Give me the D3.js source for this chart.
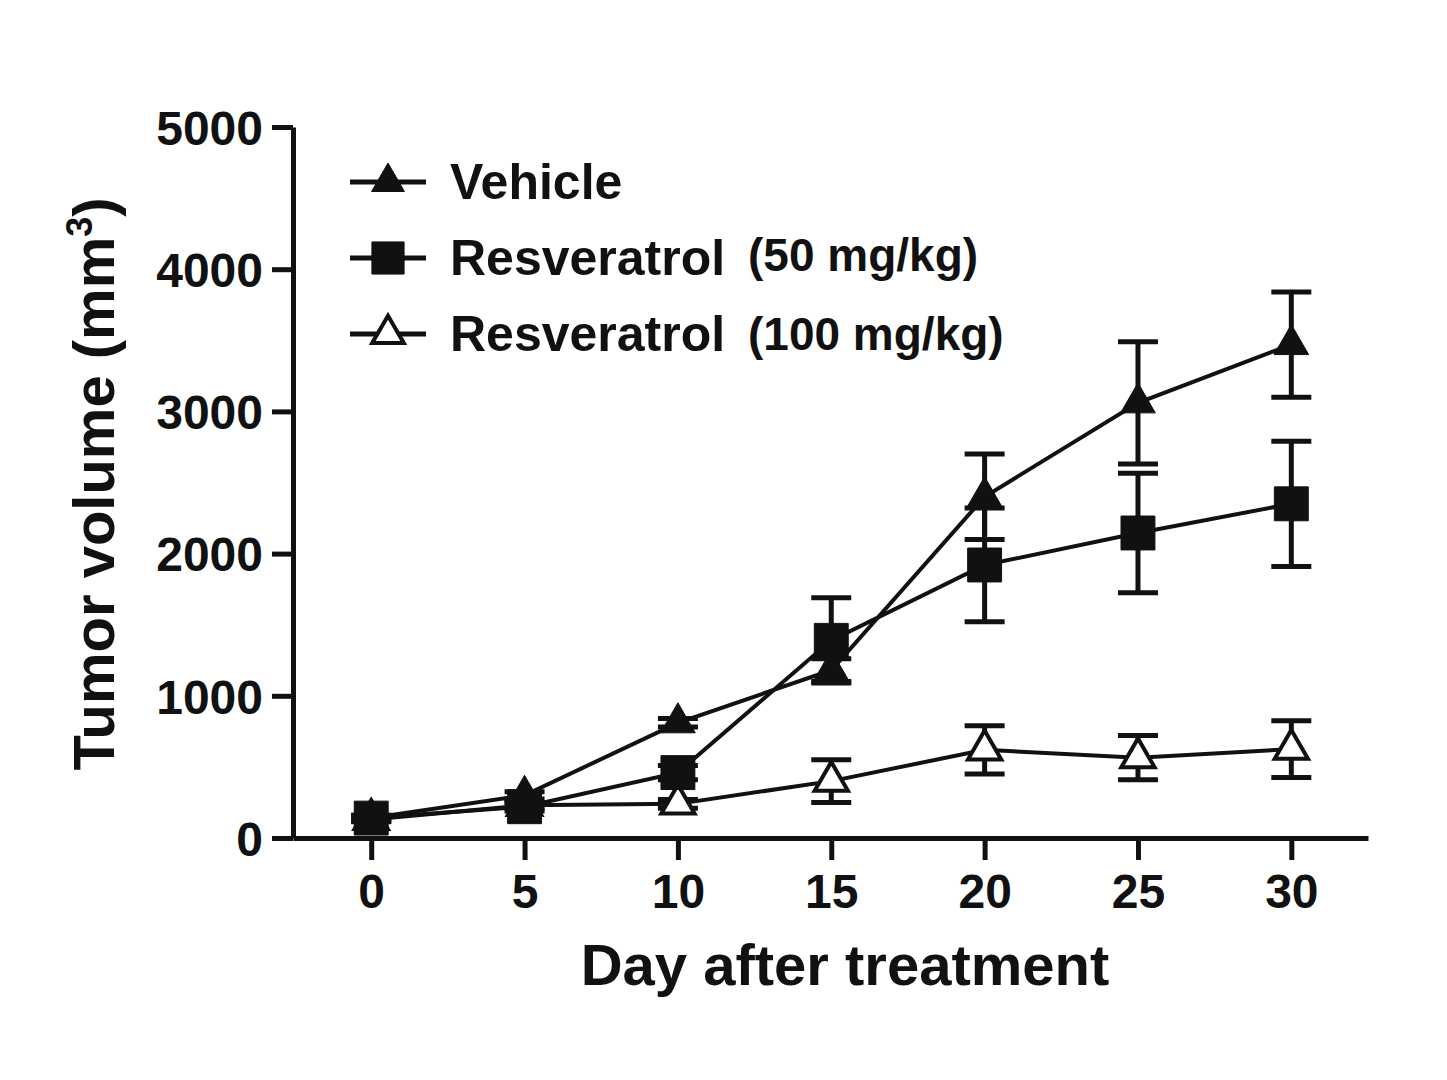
<!DOCTYPE html>
<html>
<head>
<meta charset="utf-8">
<script src="https://cdn.jsdelivr.net/npm/d3@7"></script>
<style>
  html, body { margin: 0; padding: 0; background: #fff; }
  svg text { font-family: "Liberation Sans", Arial, sans-serif; font-weight: bold; fill: #111; }
</style>
</head>
<body>
<div id="chart"></div>
<script>
// ---------------------------------------------------------------------------
// Data

const days = [0, 5, 10, 15, 20, 25, 30];
const xTicks = [0, 5, 10, 15, 20, 25, 30];
const yTicks = [0, 1000, 2000, 3000, 4000, 5000];

const vehicleMean = [140, 300, 810, 1180, 2400, 3060, 3470];
const vehicleErr = [20, 25, 30, 80, 300, 430, 370];

const res50Mean = [140, 220, 460, 1390, 1920, 2145, 2350];
const res50Err = [20, 30, 50, 300, 400, 420, 440];

const res100Mean = [130, 230, 240, 400, 620, 565, 625];
const res100Err = [15, 20, 30, 150, 170, 155, 200];

const seriesNames = ['Vehicle', 'Resveratrol', 'Resveratrol'];
const seriesDoses = ['', '(50 mg/kg)', '(100 mg/kg)'];

// ---------------------------------------------------------------------------
// Layout

const width = 1447;
const height = 1080;
const ink = '#111';

const svg = d3.select('#chart')
  .append('svg')
  .attr('width', width)
  .attr('height', height);

svg.append('rect').attr('width', width).attr('height', height).attr('fill', '#fff');

const x = d3.scaleLinear().domain([-2.55, 32.5]).range([293, 1368]);
const y = d3.scaleLinear().domain([0, 5000]).range([838, 127]);

// build series from the arrays
const series = [
  { name: seriesNames[0], dose: seriesDoses[0], mean: vehicleMean, err: vehicleErr, shape: d3.symbolTriangle, size: 520, fill: ink, z: 1 },
  { name: seriesNames[1], dose: seriesDoses[1], mean: res50Mean, err: res50Err, shape: d3.symbolSquare, size: 1150, fill: ink, z: 2 },
  { name: seriesNames[2], dose: seriesDoses[2], mean: res100Mean, err: res100Err, shape: d3.symbolTriangle, size: 480, fill: '#fff', z: 0 }
];
series.forEach(s => {
  s.points = days.map((d, i) => ({ day: d, mean: s.mean[i], err: s.err[i] }));
});
// drawing order: open triangles at the bottom, squares on top
const drawOrder = series.slice().sort((a, b) => a.z - b.z);

// ---------------------------------------------------------------------------
// Axes

const xAxis = svg.append('g')
  .attr('transform', `translate(0,${y(0)})`)
  .call(d3.axisBottom(x).tickValues(xTicks).tickSize(22).tickSizeOuter(0).tickPadding(14));

const yAxis = svg.append('g')
  .attr('transform', `translate(${x.range()[0]},0)`)
  .call(d3.axisLeft(y).tickValues(yTicks).tickFormat(d3.format('d'))
    .tickSize(21).tickSizeOuter(0).tickPadding(9));

[xAxis, yAxis].forEach(g => {
  g.select('.domain').attr('stroke', ink).attr('stroke-width', 5);
  g.selectAll('.tick line').attr('stroke', ink).attr('stroke-width', 5);
  g.selectAll('.tick text').attr('font-size', 48).attr('fill', ink);
});
yAxis.selectAll('.tick text').attr('dy', '0.36em');

// axis titles
svg.append('text')
  .attr('x', 845)
  .attr('y', 985)
  .attr('text-anchor', 'middle')
  .attr('font-size', 58)
  .text('Day after treatment');

const yTitle = svg.append('text')
  .attr('transform', 'translate(114,484) rotate(-90)')
  .attr('text-anchor', 'middle')
  .attr('font-size', 58);
yTitle.append('tspan').text('Tumor volume (mm');
yTitle.append('tspan').attr('font-size', 36).attr('dy', -22).text('3');
yTitle.append('tspan').attr('dy', 22).text(')');

// ---------------------------------------------------------------------------
// Series

const line = d3.line().x(d => x(d.day)).y(d => y(d.mean));

drawOrder.forEach(s => {
  svg.append('path')
    .datum(s.points)
    .attr('fill', 'none')
    .attr('stroke', ink)
    .attr('stroke-width', 4)
    .attr('d', line);
});

drawOrder.forEach(s => {
  const eb = svg.append('g').selectAll('g')
    .data(s.points)
    .join('g')
    .attr('stroke', ink)
    .attr('stroke-width', 5);
  eb.append('line')
    .attr('x1', d => x(d.day)).attr('x2', d => x(d.day))
    .attr('y1', d => y(d.mean - d.err)).attr('y2', d => y(d.mean + d.err));
  eb.append('line')
    .attr('x1', d => x(d.day) - 20).attr('x2', d => x(d.day) + 20)
    .attr('y1', d => y(d.mean + d.err)).attr('y2', d => y(d.mean + d.err));
  eb.append('line')
    .attr('x1', d => x(d.day) - 20).attr('x2', d => x(d.day) + 20)
    .attr('y1', d => y(d.mean - d.err)).attr('y2', d => y(d.mean - d.err));
});

drawOrder.forEach(s => {
  svg.append('g').selectAll('path')
    .data(s.points)
    .join('path')
    .attr('transform', d => `translate(${x(d.day)},${y(d.mean)})`)
    .attr('d', d3.symbol().type(s.shape).size(s.size))
    .attr('fill', s.fill)
    .attr('stroke', ink)
    .attr('stroke-width', s.fill === ink ? 1 : 4);
});

// ---------------------------------------------------------------------------
// Legend

const legendY = [182, 258, 334];
const legend = svg.append('g')
  .selectAll('g')
  .data(series)
  .join('g')
  .attr('transform', (d, i) => `translate(350,${legendY[i]})`);

legend.append('line')
  .attr('x1', 0).attr('x2', 76)
  .attr('stroke', ink).attr('stroke-width', 5);

legend.append('path')
  .attr('transform', 'translate(38,0)')
  .attr('d', d => d3.symbol().type(d.shape).size(d.size * 0.9)())
  .attr('fill', d => d.fill)
  .attr('stroke', ink)
  .attr('stroke-width', d => d.fill === ink ? 1 : 4);

legend.append('text')
  .attr('x', 100)
  .attr('y', 17)
  .attr('font-size', 50)
  .text(d => d.name);

legend.append('text')
  .attr('x', 398)
  .attr('y', (d, i) => i === 1 ? 13 : 16)
  .attr('font-size', 46)
  .text(d => d.dose);
</script>
</body>
</html>
